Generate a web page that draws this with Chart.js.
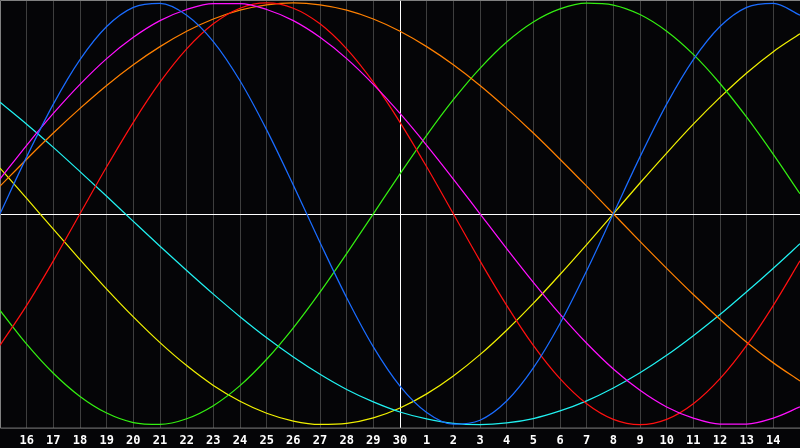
<!DOCTYPE html>
<html>
<head>
<meta charset="utf-8">
<script src="https://cdn.jsdelivr.net/npm/chart.js@4.4.1/dist/chart.umd.min.js"></script>
<style>
    html, body { margin: 0; padding: 0; background: #050507; }
    #bioChart { display: block; }
</style>
</head>
<body>
<canvas id="bioChart" width="800" height="448"></canvas>
<script>
// ===== DAYS =====
const dayLabels = ["15", "16", "17", "18", "19", "20", "21", "22", "23", "24", "25", "26", "27", "28", "29", "30",
    "1", "2", "3", "4", "5", "6", "7", "8", "9", "10", "11", "12", "13", "14", "15"];
const todayIndex = 15;

// ===== CYCLES =====
const blueValues = [0, 0.270, 0.520, 0.731, 0.888, 0.979, 0.998, 0.942, 0.817, 0.631, 0.398, 0.136, -0.136, -0.398, -0.631, -0.817,
    -0.942, -0.998, -0.979, -0.888, -0.731, -0.520, -0.270, 0, 0.270, 0.520, 0.731, 0.888, 0.979, 0.998, 0.942];
const magentaValues = [0.165, 0.325, 0.476, 0.614, 0.736, 0.837, 0.916, 0.969, 0.997, 0.997, 0.969, 0.916, 0.837, 0.736, 0.614, 0.476,
    0.325, 0.165, 0, -0.165, -0.325, -0.476, -0.614, -0.736, -0.837, -0.916, -0.969, -0.997, -0.997, -0.969, -0.916];
const redValues = [-0.624, -0.434, -0.223, 0, 0.223, 0.434, 0.624, 0.782, 0.901, 0.975, 1.000, 0.975, 0.901, 0.782, 0.624, 0.434,
    0.223, 0, -0.223, -0.434, -0.624, -0.782, -0.901, -0.975, -1.000, -0.975, -0.901, -0.782, -0.624, -0.434, -0.223];
const orangeValues = [0.131, 0.259, 0.383, 0.500, 0.609, 0.707, 0.793, 0.866, 0.924, 0.966, 0.991, 1.000, 0.991, 0.966, 0.924, 0.866,
    0.793, 0.707, 0.609, 0.500, 0.383, 0.259, 0.131, 0, -0.131, -0.259, -0.383, -0.500, -0.609, -0.707, -0.793];
const greenValues = [-0.458, -0.618, -0.756, -0.866, -0.945, -0.990, -0.999, -0.972, -0.910, -0.815, -0.690, -0.541, -0.372, -0.189, 0, 0.189,
    0.372, 0.541, 0.690, 0.815, 0.910, 0.972, 0.999, 0.990, 0.945, 0.866, 0.756, 0.618, 0.458, 0.282, 0.095];
const cyanValues = [0.529, 0.425, 0.315, 0.200, 0.083, -0.036, -0.154, -0.269, -0.381, -0.488, -0.588, -0.679, -0.761, -0.833, -0.892, -0.940,
    -0.973, -0.994, -1.000, -0.992, -0.971, -0.935, -0.887, -0.826, -0.754, -0.671, -0.578, -0.478, -0.370, -0.258, -0.142];
const yellowValues = [0.217, 0.073, -0.073, -0.217, -0.357, -0.489, -0.611, -0.720, -0.814, -0.889, -0.946, -0.983, -0.999, -0.994, -0.968, -0.921,
    -0.854, -0.769, -0.668, -0.552, -0.425, -0.288, -0.146, 0, 0.146, 0.288, 0.425, 0.552, 0.668, 0.769, 0.854];

function line(data, color) {
    return {
        data: data,
        borderColor: color,
        borderWidth: 1.25,
        pointRadius: 0,
        cubicInterpolationMode: "monotone",
        fill: false
    };
}

// ===== FRAME + ZERO LINE =====
const framePlugin = {
    id: "frame",
    beforeDatasetsDraw(chart) {
        const { ctx, chartArea } = chart;
        const zeroY = Math.round(chart.scales.y.getPixelForValue(0)) + 0.5;
        ctx.save();
        ctx.lineWidth = 1;
        ctx.strokeStyle = "#808080";
        ctx.beginPath();
        ctx.moveTo(chartArea.right, chartArea.top + 0.5);
        ctx.lineTo(chartArea.left + 0.5, chartArea.top + 0.5);
        ctx.lineTo(chartArea.left + 0.5, chartArea.bottom + 0.5);
        ctx.lineTo(chartArea.right, chartArea.bottom + 0.5);
        ctx.stroke();
        ctx.strokeStyle = "#ffffff";
        ctx.beginPath();
        ctx.moveTo(chartArea.left + 1, zeroY);
        ctx.lineTo(chartArea.right, zeroY);
        ctx.stroke();
        ctx.restore();
    }
};

const bgPlugin = {
    id: "bg",
    beforeDraw(chart) {
        const ctx = chart.ctx;
        ctx.save();
        ctx.fillStyle = "#050507";
        ctx.fillRect(0, 0, chart.width, chart.height);
        ctx.restore();
    }
};

// ===== CHART =====
const bioChart = new Chart(
    document.getElementById("bioChart").getContext("2d"),
    {
        type: "line",
        data: {
            labels: dayLabels,
            datasets: [
                line(blueValues, "#1a6cff"),
                line(magentaValues, "#ff10ff"),
                line(redValues, "#ff1010"),
                line(orangeValues, "#ff8000"),
                line(greenValues, "#33ee11"),
                line(cyanValues, "#20f0f0"),
                line(yellowValues, "#f0f000")
            ]
        },
        options: {
            responsive: false,
            animation: false,
            devicePixelRatio: 1,
            layout: { padding: 0 },
            plugins: {
                legend: { display: false },
                tooltip: { enabled: false }
            },
            scales: {
                x: {
                    offset: false,
                    border: { display: false },
                    grid: {
                        drawTicks: true,
                        tickLength: 6,
                        tickColor: "transparent",
                        color: (c) => c.index === todayIndex ? "#ffffff" : (c.index === 0 ? "transparent" : "#3e3e3e")
                    },
                    ticks: {
                        autoSkip: false,
                        maxRotation: 0,
                        padding: 0,
                        color: "#ffffff",
                        font: { family: "'DejaVu Sans Mono'", size: 12, weight: "bold" },
                        callback: (v, i) => (i === 0 || i === dayLabels.length - 1) ? "" : dayLabels[i]
                    }
                },
                y: {
                    display: false,
                    min: -1.014,
                    max: 1.014
                }
            }
        },
        plugins: [bgPlugin, framePlugin]
    }
);
</script>
</body>
</html>
